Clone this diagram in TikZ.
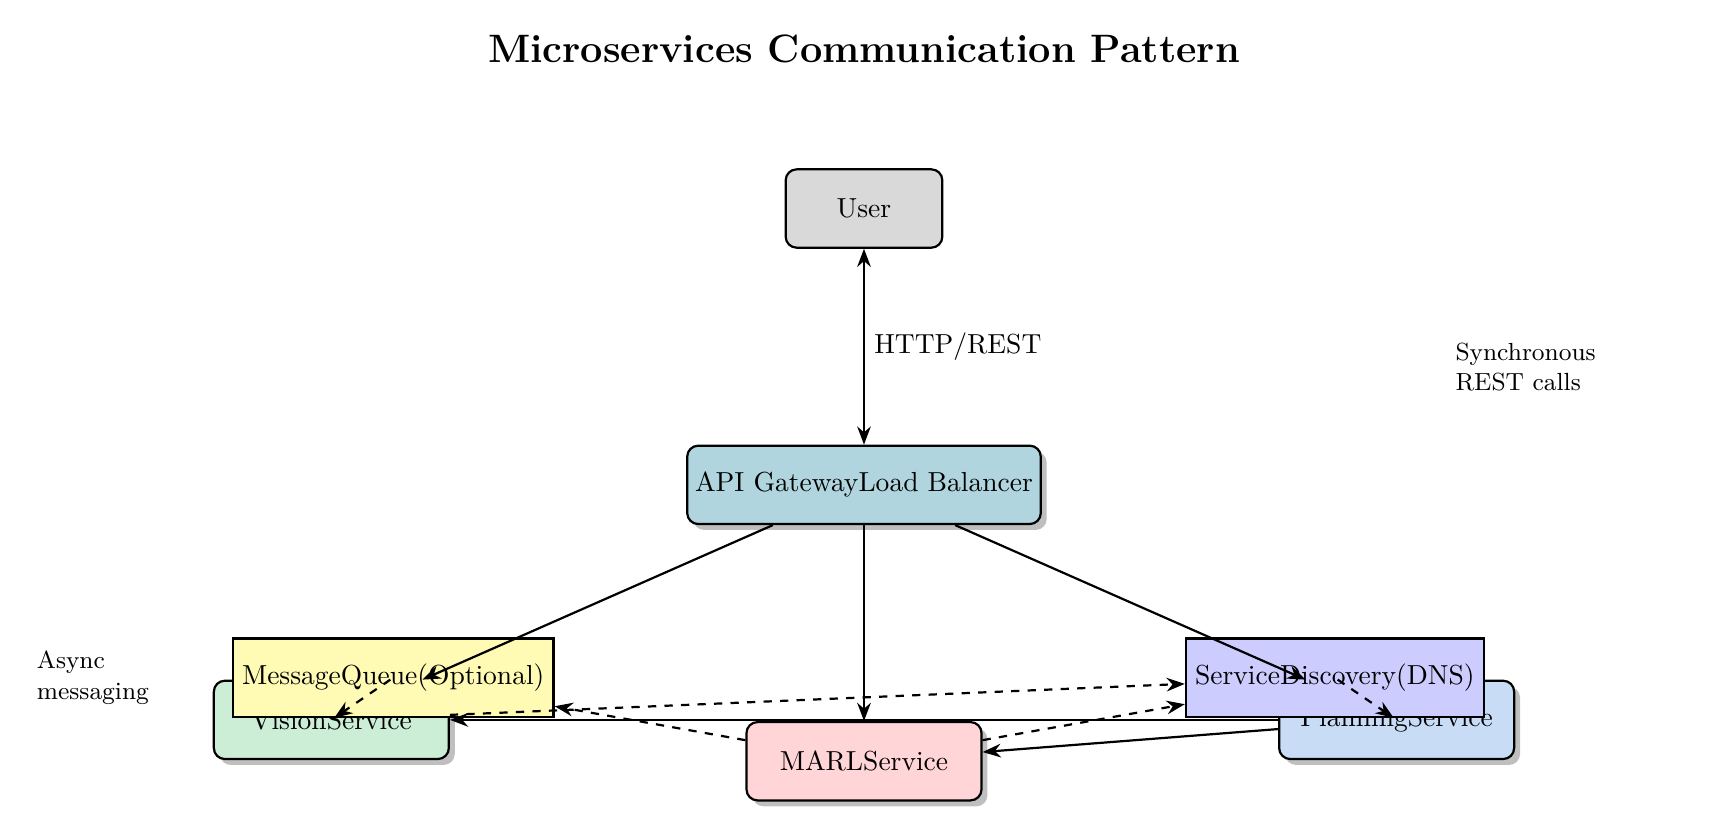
\documentclass[tikz,border=0pt]{standalone}
\usepackage{tikz}
\usetikzlibrary{arrows.meta, positioning, shadows, calc}
\definecolor{usergray}{RGB}{217,217,217}
\definecolor{gwblue}{RGB}{176,213,222}
\definecolor{visgreen}{RGB}{204,238,215}
\definecolor{marlred}{RGB}{255,213,216}
\definecolor{planblue}{RGB}{200,221,245}
\definecolor{mqyellow}{RGB}{255,251,181}
\definecolor{sdviolet}{RGB}{204,204,255}
\tikzset{
  every picture/.style={line width=0.8pt},
  node distance=2.5cm,
  box/.style={draw, rounded corners, minimum width=3cm, minimum height=1cm, inner sep=0.1cm},
  svc/.style={box, drop shadow},
  infra/.style={draw, minimum width=3cm, minimum height=1cm},
  note/.style={font=\small, align=left, anchor=west},
}

\begin{document}
\begin{tikzpicture}[>=Stealth]
    \useasboundingbox (-11.03,-4.41) rectangle (11.03,6.19);

    \node[font=\Large\bfseries] (title) at (0,5.56) {Microservices Communication Pattern};

    \node[svc, fill=gwblue] (api) at (0,0) {API GatewayLoad Balancer};
    \node[box, fill=usergray, minimum width=2cm, above=of api] (user) {User};

    \node[svc, fill=visgreen] (vision) at (-6.8,-3) {VisionService};
    \node[svc, fill=marlred, below=of api] (marl) {MARLService};
    \node[svc, fill=planblue] (planning) at (6.8,-3) {PlanningService};

    \node[infra, fill=mqyellow] (mq) at (-6.01,-2.46) {MessageQueue(Optional)};
    \node[infra, fill=sdviolet] (sd) at (6.01,-2.46) {ServiceDiscovery(DNS)};

    \node[note] (sync) at (7.42,1.5) {Synchronous\\REST calls};
    \node[note] (async) at (-10.69,-2.46) {Async\\messaging};

    \draw (user) edge[<->] node[right] {HTTP/REST} (api);

    \draw (api) edge[->] (vision);
    \draw (api) edge[->] (marl);
    \draw (api) edge[->] (planning);

    \draw (planning) edge[->] (vision);
    \draw (planning) edge[->] (marl);

    \draw (vision) edge[->, dashed] (mq);
    \draw (marl) edge[->, dashed] (mq);
    \draw (vision) edge[->, dashed] (sd);
    \draw (marl) edge[->, dashed] (sd);
    \draw (planning) edge[->, dashed] (sd);
\end{tikzpicture}
\end{document}
